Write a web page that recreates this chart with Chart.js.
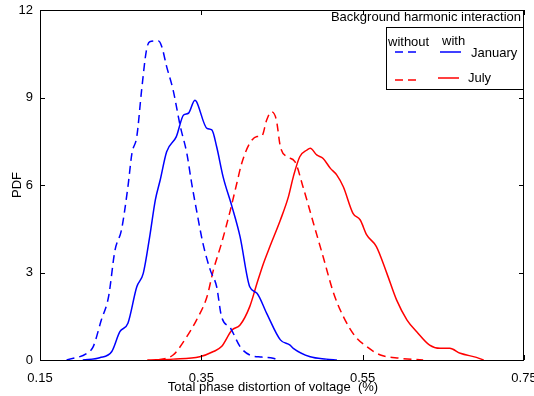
<!DOCTYPE html>
<html>
<head>
<meta charset="utf-8">
<script src="https://cdn.jsdelivr.net/npm/chart.js@4/dist/chart.umd.min.js"></script>
<style>
  html, body { margin: 0; padding: 0; background: #fff; }
  canvas { display: block; }
</style>
</head>
<body>
<canvas id="pdf" width="534" height="396"></canvas>
<script>
// January, without background harmonic interaction (blue dashed)
const janWithoutX = [0.183, 0.208, 0.216, 0.226, 0.235, 0.243, 0.251, 0.259, 0.264, 0.270, 0.276, 0.282, 0.286, 0.297, 0.301, 0.307, 0.315, 0.324, 0.332, 0.338, 0.344, 0.352, 0.361, 0.369, 0.375, 0.386, 0.398, 0.410, 0.425, 0.439, 0.445];
const janWithoutY = [0, 0.23, 0.46, 1.37, 2.17, 3.77, 4.46, 5.94, 7.09, 7.66, 9.26, 10.63, 10.91, 10.94, 10.74, 10.06, 9.26, 8.0, 7.09, 6.06, 5.14, 4.0, 3.09, 2.51, 1.49, 1.1, 0.46, 0.17, 0.1, 0.06, 0];

// January, with (blue solid)
const janWithX = [0.203, 0.224, 0.239, 0.249, 0.259, 0.270, 0.278, 0.286, 0.293, 0.299, 0.307, 0.319, 0.328, 0.334, 0.342, 0.344, 0.357, 0.363, 0.369, 0.377, 0.388, 0.398, 0.410, 0.419, 0.431, 0.448, 0.460, 0.464, 0.485, 0.505, 0.518];
const janWithY = [0, 0.08, 0.29, 0.97, 1.26, 2.51, 2.97, 4.23, 5.49, 6.17, 7.14, 7.66, 8.4, 8.46, 8.91, 8.86, 7.94, 7.89, 7.31, 6.28, 5.26, 4.23, 2.51, 2.29, 1.6, 0.69, 0.51, 0.4, 0.11, 0.03, 0];

// July, without (red dashed)
const julWithoutX = [0.296, 0.315, 0.332, 0.344, 0.357, 0.365, 0.375, 0.386, 0.394, 0.400, 0.410, 0.419, 0.425, 0.431, 0.437, 0.443, 0.448, 0.456, 0.466, 0.476, 0.489, 0.501, 0.514, 0.526, 0.541, 0.555, 0.572, 0.596, 0.625];
const julWithoutY = [0, 0.17, 0.8, 1.37, 2.17, 3.09, 4.0, 5.14, 6.06, 6.74, 7.43, 7.66, 7.68, 8.23, 8.51, 8.23, 7.31, 6.97, 6.8, 5.94, 4.69, 3.54, 2.29, 1.49, 0.8, 0.46, 0.17, 0.06, 0];

// July, with (red solid)
const julWithX = [0.283, 0.315, 0.348, 0.365, 0.375, 0.388, 0.398, 0.410, 0.419, 0.427, 0.435, 0.448, 0.458, 0.464, 0.472, 0.481, 0.485, 0.493, 0.501, 0.510, 0.518, 0.526, 0.538, 0.547, 0.555, 0.567, 0.580, 0.592, 0.605, 0.617, 0.633, 0.646, 0.658, 0.671, 0.691, 0.700];
const julWithY = [0, 0.03, 0.11, 0.29, 0.46, 1.03, 1.2, 1.83, 2.63, 3.31, 3.89, 4.8, 5.6, 6.28, 6.97, 7.2, 7.26, 7.03, 6.91, 6.57, 6.34, 5.94, 5.03, 4.8, 4.29, 3.89, 2.97, 2.06, 1.37, 0.97, 0.51, 0.4, 0.4, 0.23, 0.09, 0];

const FONT = '"Liberation Sans", Arial, sans-serif';
const BLUE = "#0000ff";
const RED = "#ff0000";
const DASH = [8, 5];

function pts(xs, ys) {
  return xs.map((x, i) => ({ x: x, y: ys[i] }));
}

function line(xs, ys, color, dashed) {
  return {
    data: pts(xs, ys),
    borderColor: color,
    borderWidth: 1.5,
    borderDash: dashed ? DASH : [],
    pointRadius: 0,
    fill: false,
    cubicInterpolationMode: "monotone",
  };
}

// box, inward ticks, x label and the legend, drawn the way the original plot has them
const framePlugin = {
  id: "frame",
  afterDraw(chart) {
    const ctx = chart.ctx;
    const a = chart.chartArea;
    const xs = chart.scales.x;
    const ys = chart.scales.y;
    ctx.save();
    ctx.strokeStyle = "#000";
    ctx.lineWidth = 1;
    ctx.setLineDash([]);

    ctx.fillStyle = "#000";
    ctx.font = "13px " + FONT;
    ctx.textBaseline = "middle";

    // x axis label (sits a little left of centre in the original)
    ctx.textAlign = "center";
    ctx.fillText("Total phase distortion of voltage  (%)", 273, 387);

    // legend title
    ctx.textAlign = "right";
    ctx.fillText("Background harmonic interaction", a.right - 3, 17);

    // ticks
    ctx.beginPath();
    xs.ticks.forEach((t) => {
      const px = Math.round(xs.getPixelForValue(t.value)) + 0.5;
      ctx.moveTo(px, a.bottom); ctx.lineTo(px, a.bottom - 5);
      ctx.moveTo(px, a.top); ctx.lineTo(px, a.top + 5);
    });
    ys.ticks.forEach((t) => {
      const py = Math.round(ys.getPixelForValue(t.value)) + 0.5;
      ctx.moveTo(a.left, py); ctx.lineTo(a.left + 5, py);
      ctx.moveTo(a.right, py); ctx.lineTo(a.right - 5, py);
    });
    ctx.stroke();

    // frame
    ctx.strokeRect(Math.round(a.left) + 0.5, Math.round(a.top) + 0.5,
      Math.round(a.right - a.left) - 1, Math.round(a.bottom - a.top));

    // legend box
    const bx = 386.5, by = 27.5, bw = 137, bh = 62;
    ctx.fillStyle = "#fff";
    ctx.fillRect(bx, by, bw, bh);
    ctx.strokeRect(bx, by, bw, bh);

    ctx.fillStyle = "#000";
    ctx.textAlign = "left";
    ctx.fillText("without", 388, 42);
    ctx.fillText("with", 442, 41);
    ctx.fillText("January", 471, 53);
    ctx.fillText("July", 468, 78);

    ctx.lineWidth = 1.5;
    const seg = (x1, x2, y, color, dashed) => {
      ctx.beginPath();
      ctx.strokeStyle = color;
      ctx.setLineDash(dashed ? DASH : []);
      ctx.moveTo(x1, y); ctx.lineTo(x2, y);
      ctx.stroke();
    };
    seg(395, 416, 52, BLUE, true);
    seg(440, 461, 52, BLUE, false);
    seg(395, 416, 80, RED, true);
    seg(438, 459, 78, RED, false);
    ctx.restore();
  },
};

new Chart(document.getElementById("pdf").getContext("2d"), {
  type: "line",
  data: {
    datasets: [
      line(janWithoutX, janWithoutY, BLUE, true),
      line(janWithX, janWithY, BLUE, false),
      line(julWithoutX, julWithoutY, RED, true),
      line(julWithX, julWithY, RED, false),
    ],
  },
  options: {
    responsive: false,
    animation: false,
    devicePixelRatio: 1,
    layout: { padding: { top: 10, right: 10, left: 0, bottom: 0 } },
    plugins: { legend: { display: false }, tooltip: { enabled: false } },
    scales: {
      x: {
        type: "linear",
        min: 0.15,
        max: 0.75,
        afterFit(s) { s.height = 36; s.paddingLeft = 0; s.paddingRight = 0; },
        grid: { display: false, drawTicks: false },
        border: { display: false },
        ticks: {
          stepSize: 0.2,
          padding: 11,
          color: "#000",
          font: { family: FONT, size: 13 },
          maxRotation: 0,
          callback: (v) => v.toFixed(2),
        },
      },
      y: {
        min: 0,
        max: 12,
        afterFit(s) { s.width = 40; s.paddingTop = 0; s.paddingBottom = 0; },
        grid: { display: false, drawTicks: false },
        border: { display: false },
        ticks: {
          stepSize: 3,
          padding: 7,
          color: "#000",
          font: { family: FONT, size: 13 },
        },
        title: {
          display: true,
          text: "PDF",
          color: "#000",
          font: { family: FONT, size: 13 },
          padding: { top: 10, bottom: 0 },
        },
      },
    },
  },
  plugins: [framePlugin],
});
</script>
</body>
</html>
